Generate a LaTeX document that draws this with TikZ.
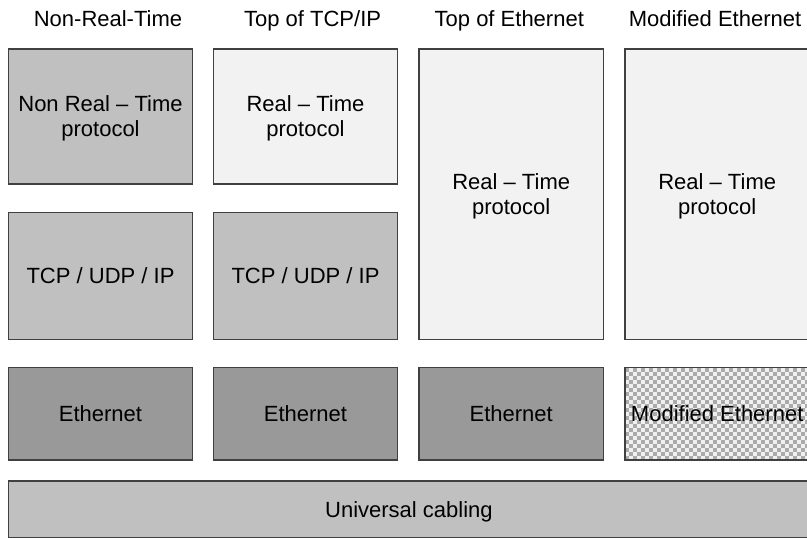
\documentclass[tikz,border=0pt]{standalone}
\usepackage{fontspec}
\setmainfont{Liberation Sans}
\definecolor{lightbox}{HTML}{F2F2F2}
\definecolor{midbox}{HTML}{C0C0C0}
\definecolor{darkbox}{HTML}{999999}
\definecolor{edge}{HTML}{404040}
\definecolor{chklight}{HTML}{F0F0F0}
\definecolor{chkdark}{HTML}{AAAAAA}
\begin{document}
\begin{tikzpicture}[x=1pt,y=-1pt,
  layer/.style={draw=edge,line width=1.3pt,minimum width=184.5pt,inner sep=0pt,align=center,
    text depth=0pt,font=\fontsize{22}{25}\selectfont},
  title/.style={anchor=base,font=\fontsize{22}{25}\selectfont,inner sep=0pt}]
\useasboundingbox (0,0) rectangle (807,538);
% titles
\node[title] (t1) at (108,26.8) {Non-Real-Time};
\node[title] (t2) at (312.6,26.8) {Top of TCP/IP};
\node[title] (t3) at (509.3,26.8) {Top of Ethernet};
\node[title] (t4) at (715,26.8) {Modified Ethernet};
% column 1
\node[layer,fill=midbox,minimum height=135pt] (a1) at (100.5,116.5) {Non Real -- Time\\protocol};
\node[layer,fill=midbox,minimum height=127pt] (a2) at (100.5,275.8) {TCP / UDP / IP};
\node[layer,fill=darkbox,minimum height=92.3pt] (a3) at (100.5,413.8) {Ethernet};
% column 2
\node[layer,fill=lightbox,minimum height=135pt] (b1) at (305.5,116.5) {Real -- Time\\protocol};
\node[layer,fill=midbox,minimum height=127pt] (b2) at (305.5,275.8) {TCP / UDP / IP};
\node[layer,fill=darkbox,minimum height=92.3pt] (b3) at (305.5,413.8) {Ethernet};
% column 3
\node[layer,fill=lightbox,minimum height=290.3pt] (c1) at (511.2,194.2) {Real -- Time\\protocol};
\node[layer,fill=darkbox,minimum height=92.3pt] (c3) at (511.2,413.8) {Ethernet};
% column 4
\node[layer,fill=lightbox,minimum height=290.3pt] (d1) at (717.2,194.2) {Real -- Time\\protocol};
\begin{scope}
  \clip (625,367.7) rectangle (809.5,460);
  \fill[chklight] (625,367.7) rectangle (809.5,460);
  \foreach \i in {0,...,46} {
    \foreach \j in {0,...,23} {
      \pgfmathtruncatemacro{\chkpar}{mod(\i+\j,2)}
      \ifnum\chkpar=0
        \fill[chkdark] ({625+4*\i},{367.7+4*\j}) rectangle ++(4,4);
      \fi
    }
  }
\end{scope}
\node[layer,minimum height=92.3pt] (d3) at (717.2,413.8) {Modified Ethernet};
% cabling
\node[layer,fill=midbox,minimum width=801.2pt,minimum height=56.3pt] (cab) at (408.9,509.1) {Universal cabling};
\end{tikzpicture}
\end{document}
